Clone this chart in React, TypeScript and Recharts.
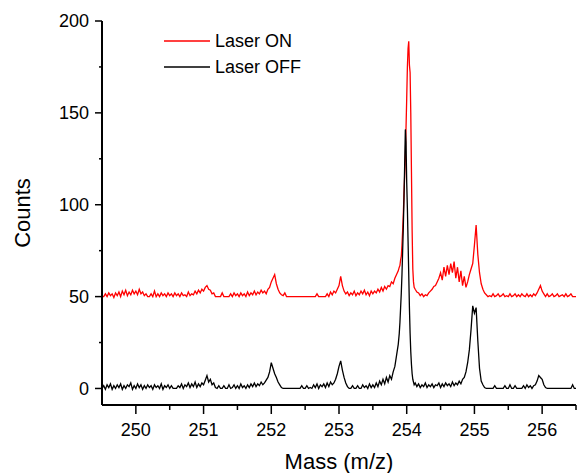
import React from 'react';
import { LineChart, Line, XAxis, YAxis, Legend } from 'recharts';

const FONT = '"Liberation Sans", Arial, Helvetica, sans-serif';

// m/z values (denser sampling around the 254 peak)
const mass = [
  249.5, 249.525, 249.55, 249.575, 249.6, 249.625, 249.65, 249.675, 249.7, 249.725,
  249.75, 249.775, 249.8, 249.825, 249.85, 249.875, 249.9, 249.925, 249.95, 249.975,
  250, 250.025, 250.05, 250.075, 250.1, 250.125, 250.15, 250.175, 250.2, 250.225,
  250.25, 250.275, 250.3, 250.325, 250.35, 250.375, 250.4, 250.425, 250.45, 250.475,
  250.5, 250.525, 250.55, 250.575, 250.6, 250.625, 250.65, 250.675, 250.7, 250.725,
  250.75, 250.775, 250.8, 250.825, 250.85, 250.875, 250.9, 250.925, 250.95, 250.975,
  251, 251.025, 251.05, 251.075, 251.1, 251.125, 251.15, 251.175, 251.2, 251.225,
  251.25, 251.275, 251.3, 251.325, 251.35, 251.375, 251.4, 251.425, 251.45, 251.475,
  251.5, 251.525, 251.55, 251.575, 251.6, 251.625, 251.65, 251.675, 251.7, 251.725,
  251.75, 251.775, 251.8, 251.825, 251.85, 251.875, 251.9, 251.925, 251.95, 251.975,
  252, 252.025, 252.05, 252.075, 252.1, 252.125, 252.15, 252.175, 252.2, 252.225,
  252.25, 252.275, 252.3, 252.325, 252.35, 252.375, 252.4, 252.425, 252.45, 252.475,
  252.5, 252.525, 252.55, 252.575, 252.6, 252.625, 252.65, 252.675, 252.7, 252.725,
  252.75, 252.775, 252.8, 252.825, 252.85, 252.875, 252.9, 252.925, 252.95, 252.975,
  253, 253.025, 253.05, 253.075, 253.1, 253.125, 253.15, 253.175, 253.2, 253.225,
  253.25, 253.275, 253.3, 253.325, 253.35, 253.375, 253.4, 253.425, 253.45, 253.475,
  253.5, 253.525, 253.55, 253.575, 253.6, 253.625, 253.65, 253.675, 253.7, 253.725,
  253.75, 253.775, 253.8, 253.825, 253.85, 253.875,
  253.89, 253.9, 253.91, 253.92, 253.93, 253.94, 253.95, 253.96, 253.97, 253.98,
  253.99, 254, 254.01, 254.02, 254.03, 254.04, 254.05, 254.06, 254.07, 254.08,
  254.09, 254.1, 254.11,
  254.125, 254.15, 254.175, 254.2, 254.225, 254.25, 254.275, 254.3, 254.325, 254.35,
  254.375, 254.4, 254.425, 254.45, 254.475, 254.5, 254.525, 254.55, 254.575, 254.6,
  254.625, 254.65, 254.675, 254.7, 254.725, 254.75, 254.775, 254.8, 254.825, 254.85,
  254.875, 254.9, 254.925, 254.95, 254.975, 255, 255.025, 255.05, 255.075, 255.1,
  255.125, 255.15, 255.175, 255.2, 255.225, 255.25, 255.275, 255.3, 255.325, 255.35,
  255.375, 255.4, 255.425, 255.45, 255.475, 255.5, 255.525, 255.55, 255.575, 255.6,
  255.625, 255.65, 255.675, 255.7, 255.725, 255.75, 255.775, 255.8, 255.825, 255.85,
  255.875, 255.9, 255.925, 255.95, 255.975, 256, 256.025, 256.05, 256.075, 256.1,
  256.125, 256.15, 256.175, 256.2, 256.225, 256.25, 256.275, 256.3, 256.325, 256.35,
  256.375, 256.4, 256.425, 256.45, 256.475, 256.5,
];

// Laser OFF counts
const laserOff = [
  0, 1.5, -0.5, 2, 0.5, 2.5, -0.5, 1.5, 0, 2,
  0.5, 2.5, -0.5, 1.5, 0, 2, 1, 3, -0.5, 1.5,
  0, 2.5, 0.5, 2, -0.5, 1.5, 0, 2, 0.5, 1.5,
  -0.5, 2, 0.5, 1.5, 0, 2.5, -0.5, 1.5, 0.5, 2,
  0, 1.5, 0, 0, 0, 1.5, 0.5, 2.5, 0, 2,
  1, 3, 0.5, 2.5, 1, 3.5, 0.5, 2.5, 1, 3,
  2, 4.5, 7, 3.5, 5, 2, 3, 0.5, 0, 1.5,
  0, 0, 1.5, 0, 0, 2, 0, 0.5, 2, 0,
  1.5, 0, 2.5, 0.5, 1.5, 0, 2, 0.5, 2.5, 1,
  3, 1, 2.5, 1.5, 3.5, 2, 3, 4.5, 6, 9,
  14, 11, 8, 6, 3.5, 2, 0.5, 0, 0, 0,
  0, 0, 0, 0, 0, 0, 0, 0, 1.5, 0,
  0, 1.5, 0, 0.5, 0, 2, 0.5, 2.5, 0, 2,
  1, 2.5, 0.5, 3, 1, 3.5, 2, 3, 5, 8,
  12, 15, 10, 6, 3, 1, 0, 0, 1.5, 0,
  0, 1.5, 0, 0, 2, 0.5, 1.5, 0, 2.5, 0.5,
  2, 0.5, 3, 1, 4, 2, 5, 2.5, 6, 3.5,
  7, 5, 9, 12, 18, 24,
  30, 36, 44, 52, 62, 75, 88, 104, 122, 141,
  134, 112, 98, 80, 62, 44, 30, 20, 13, 8,
  5, 3.5, 2,
  3, 1, 2.5, 0.5, 2, 1, 3, 0.5, 2, 1,
  2.5, 0.5, 2, 1.5, 3, 0.5, 2.5, 1, 3, 1.5,
  2.5, 1, 3.5, 1.5, 3, 2, 4, 2.5, 5, 6,
  9, 14, 21, 32, 45, 41, 44, 26, 11, 4,
  2, 0.5, 0, 0, 0, 0, 0, 1.5, 0, 0,
  0, 0, 0, 1.5, 0, 0, 2, 0, 0, 1.5,
  0, 0, 0, 0, 1.5, 0, 2, 0.5, 1.5, 0,
  1.5, 2, 4, 7, 6, 5, 2, 0.5, 0, 0,
  0, 0, 0, 0, 0, 0, 0, 0, 0, 0,
  0, 0, 0, 2, 0, 0,
];

// Laser ON counts (offset trace)
const laserOn = [
  50, 50, 51.5, 50, 52, 50.5, 51.5, 49.5, 52, 50.5,
  52.5, 50, 53, 51, 53.5, 50.5, 52.5, 51, 53.5, 51.5,
  53, 51, 54, 51.5, 52.5, 50.5, 51.5, 50, 50, 51.5,
  50, 53, 50, 51.5, 50, 52, 50.5, 51.5, 50, 52,
  50.5, 51.5, 50, 52, 50.5, 51.5, 50, 52, 50.5, 51,
  50, 52.5, 50.5, 51.5, 51, 53, 51.5, 53.5, 52, 54,
  53, 55, 56, 54, 53.5, 51.5, 52, 50, 50, 50,
  50, 52, 50, 50, 50, 50, 51.5, 50, 52, 50.5,
  51.5, 50, 52, 50.5, 51.5, 50, 52.5, 50.5, 52, 51,
  53, 51, 52.5, 51.5, 53.5, 52, 53, 51.5, 54, 55,
  58, 60, 62, 57, 54, 52, 51, 50.5, 52, 50,
  50, 50, 50, 50, 50, 50, 50, 50, 50, 50,
  50, 50, 50, 50, 50, 50, 50, 51.5, 50, 50,
  50, 50, 50, 51.5, 50, 52.5, 51, 53, 52, 54,
  56, 61, 56, 53, 51.5, 52.5, 50.5, 52, 51, 53,
  50.5, 52, 51, 53, 51.5, 53.5, 51, 52.5, 50.5, 53,
  51.5, 53, 52, 54, 52.5, 55, 53, 55.5, 54, 56,
  55.5, 58, 57, 60, 62, 64,
  66, 67, 70, 72, 78, 86, 95, 106, 116, 126,
  142, 158, 175, 185, 189, 176, 172, 150, 118, 86,
  65, 58, 55,
  54, 52.5, 52, 50.5, 51.5, 50, 51, 50.5, 52, 53,
  54, 55.5, 56, 58, 60, 63, 59, 66, 61, 67,
  62, 68, 63, 69, 60, 66, 58, 64, 56, 61,
  55, 58, 62, 65, 68, 78, 89, 73, 63, 57,
  54, 52, 51, 50, 50.5, 50, 51.5, 50, 50.5, 51.5,
  50, 50.5, 51.5, 50, 50.5, 50, 51.5, 50, 50.5, 51.5,
  50, 51, 50, 51.5, 50.5, 50, 51.5, 50, 51, 50,
  51.5, 50.5, 52, 54, 56, 53, 51.5, 50, 51.5, 50,
  50.5, 51.5, 50, 50.5, 51.5, 50, 50.5, 51, 50, 51.5,
  50, 50.5, 51.5, 50, 50, 50,
];

const xTicks = [250, 250.5, 251, 251.5, 252, 252.5, 253, 253.5, 254, 254.5, 255, 255.5, 256, 256.5];
const yTicks = [0, 25, 50, 75, 100, 125, 150, 175, 200];
const legendOrder = ['Laser ON', 'Laser OFF'];

const data = mass.map((m, i) => ({ mass: m, on: laserOn[i], off: laserOff[i] }));

function XTick(props: any) {
  const { x, y, payload } = props;
  const v = payload.value;
  const major = Math.abs(v - Math.round(v)) < 1e-6;
  return (
    <g>
      <line x1={x} x2={x} y1={y} y2={y + (major ? 9 : 5)} stroke="#000" strokeWidth={1.5} />
      {major && (
        <text x={x} y={y + 18} dy="0.71em" textAnchor="middle" fontSize={18} fontFamily={FONT} fill="#000">
          {v}
        </text>
      )}
    </g>
  );
}

function YTick(props: any) {
  const { x, y, payload } = props;
  const v = payload.value;
  const major = v % 50 === 0;
  return (
    <g>
      <line x1={x - (major ? 7 : 3)} x2={x} y1={y} y2={y} stroke="#000" strokeWidth={1.5} />
      {major && (
        <text x={x - 13} y={y} dy="0.36em" textAnchor="end" fontSize={18} fontFamily={FONT} fill="#000">
          {v}
        </text>
      )}
    </g>
  );
}

function renderLegend(props: any) {
  const items = [...(props.payload || [])].sort(
    (a: any, b: any) => legendOrder.indexOf(a.value) - legendOrder.indexOf(b.value)
  );
  return (
    <div style={{ fontFamily: FONT, fontSize: 18, color: '#000' }}>
      {items.map((it: any) => (
        <div key={it.value} style={{ display: 'flex', alignItems: 'center', height: 26, whiteSpace: 'nowrap' }}>
          <svg width={46} height={6} style={{ display: 'block' }}>
            <line x1={0} x2={46} y1={3} y2={3} stroke={it.color} strokeWidth={1.5} />
          </svg>
          <span style={{ marginLeft: 5, lineHeight: '26px' }}>{it.value}</span>
        </div>
      ))}
    </div>
  );
}

const countsLabel = () => (
  <text
    x={0}
    y={0}
    transform="translate(22,213) rotate(-90)"
    textAnchor="middle"
    dominantBaseline="central"
    fontSize={22}
    fontFamily={FONT}
    fill="#000"
  >
    Counts
  </text>
);

export default function App() {
  return (
    <div style={{ position: 'absolute', left: 0, top: 0, width: 578, height: 473, background: '#fff' }}>
      <LineChart
        width={578}
        height={473}
        data={data}
        margin={{ top: 21, right: 2, bottom: 0, left: 0 }}
        style={{ fontFamily: FONT }}
      >
        <XAxis
          dataKey="mass"
          type="number"
          domain={[249.5, 256.5]}
          ticks={xTicks}
          interval={0}
          tick={<XTick />}
          tickLine={false}
          tickSize={0}
          tickMargin={0}
          axisLine={{ stroke: '#000', strokeWidth: 2 }}
          height={68}
          allowDataOverflow
          label={{ value: 'Mass (m/z)', position: 'insideBottom', offset: 4, fontSize: 22, fill: '#000', fontFamily: FONT }}
        />
        <YAxis
          type="number"
          domain={[-9, 200]}
          ticks={yTicks}
          interval={0}
          tick={<YTick />}
          tickLine={false}
          tickSize={0}
          tickMargin={0}
          axisLine={{ stroke: '#000', strokeWidth: 2 }}
          width={102}
          allowDataOverflow
          label={{ content: countsLabel }}
        />
        <Line dataKey="on" name="Laser ON" stroke="#ff0000" strokeWidth={1.3} dot={false} isAnimationActive={false} />
        <Line dataKey="off" name="Laser OFF" stroke="#000000" strokeWidth={1.3} dot={false} isAnimationActive={false} />
        <Legend
          layout="vertical"
          align="center"
          verticalAlign="middle"
          wrapperStyle={{ left: 164, top: 28, width: 'auto' }}
          content={renderLegend}
        />
      </LineChart>
    </div>
  );
}
